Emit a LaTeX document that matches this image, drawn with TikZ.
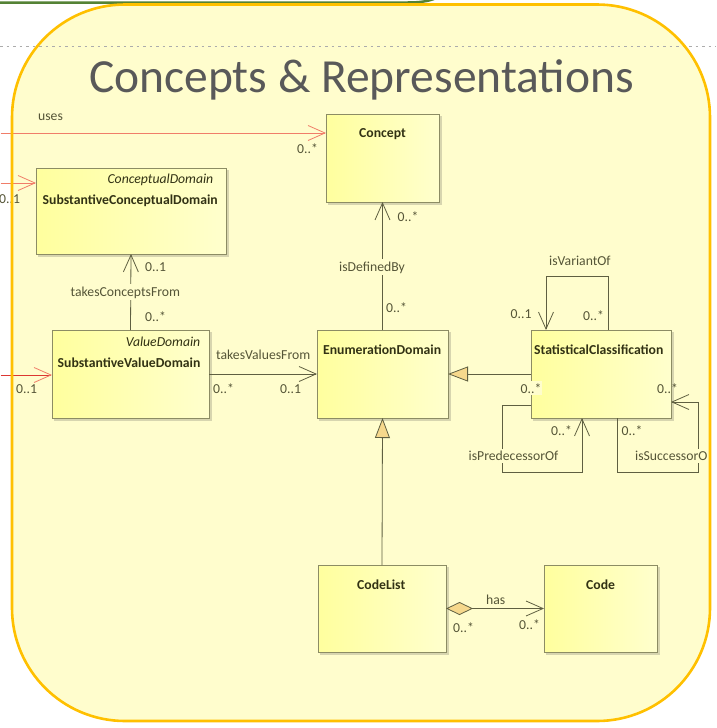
\documentclass[tikz,border=0pt]{standalone}
\usepackage{fontspec}
\setmainfont{Carlito}
\usetikzlibrary{arrows.meta,calc}

\definecolor{pagebg}{RGB}{255,253,205}
\definecolor{frameor}{RGB}{255,192,0}
\definecolor{slidegreen}{RGB}{84,130,53}
\definecolor{titlegray}{RGB}{89,89,89}
\definecolor{boxleft}{RGB}{255,255,158}
\definecolor{boxright}{RGB}{255,255,205}
\definecolor{boxedge}{RGB}{140,140,100}
\definecolor{clstext}{RGB}{50,50,20}
\definecolor{lbltext}{RGB}{85,85,55}
\definecolor{linecol}{RGB}{95,95,65}
\definecolor{salmon}{RGB}{240,125,105}
\definecolor{deepred}{RGB}{220,55,50}
\definecolor{tipfill}{RGB}{246,216,140}
\definecolor{shadowcol}{RGB}{215,213,175}

\tikzset{
  openhd/.tip={Straight Barb[length=17pt,width=15pt]},
  gentri/.tip={Triangle[length=20pt,width=15pt,fill=tipfill]},
  aggdia/.tip={Diamond[length=27pt,width=13pt,fill=tipfill]},
  umlbox/.style={draw=boxedge, line width=0.9pt, rectangle, outer sep=0pt,
    left color=boxleft, right color=boxright},
  boxshadow/.style={fill=shadowcol},
  clsname/.style={text=clstext, font=\fontsize{13.7}{16}\selectfont\bfseries,
    inner sep=0pt, anchor=base west},
  stereo/.style={text=clstext, font=\fontsize{13.7}{16}\selectfont\itshape,
    inner sep=0pt, anchor=base east},
  lbl/.style={text=lbltext, inner sep=0pt, anchor=base west},
  masked/.style={fill=pagebg, inner xsep=1pt, inner ysep=2pt},
  assoc/.style={draw=linecol, line width=0.8pt},
  redline/.style={draw=salmon, line width=0.8pt},
}

\begin{document}
\begin{tikzpicture}[x=1pt,y=-1pt,font=\fontsize{13.7}{16}\selectfont]
\useasboundingbox (0,0) rectangle (717,728);
\fill[white] (0,0) rectangle (717,728);

% yellow rounded panel
\fill[pagebg, rounded corners=113pt] (12,4.5) rectangle (710,721);

% slide header rule and dotted guide
\draw[slidegreen, line width=2.5pt] (0,2.5) -- (408,2.5) .. controls (421,2.5) and (428,1) .. (434,-1);
\draw[gray!65, line width=1pt, dash pattern=on 2.5pt off 4pt] (0,46.5) -- (716,46.5);

% title
\node[text=titlegray, font=\fontsize{47.5}{50}\selectfont, inner sep=0pt, anchor=base] (title) at (361.5,92) {Concepts \& Representations};

% soft shadows under the class boxes
\fill[boxshadow] (328,116) rectangle (441.5,204.5);
\fill[boxshadow] (38,170) rectangle (228.5,256.5);
\fill[boxshadow] (54,332) rectangle (211.5,420.5);
\fill[boxshadow] (319,332) rectangle (450.5,420.5);
\fill[boxshadow] (533,332) rectangle (673.5,420.5);
\fill[boxshadow] (320,567) rectangle (448.5,654.5);
\fill[boxshadow] (546,567) rectangle (659.5,654.5);

% classes
\node[umlbox, minimum width=113pt, minimum height=88pt] (concept) at (382.5,158) {};
\node[umlbox, minimum width=190pt, minimum height=86pt] (scd) at (131,211) {};
\node[umlbox, minimum width=157pt, minimum height=88pt] (svd) at (130.5,374) {};
\node[umlbox, minimum width=131pt, minimum height=88pt] (enum) at (382.5,374) {};
\node[umlbox, minimum width=140pt, minimum height=88pt] (stat) at (601,374) {};
\node[umlbox, minimum width=128pt, minimum height=87pt] (codelist) at (382,608.5) {};
\node[umlbox, minimum width=113pt, minimum height=87pt] (code) at (600.5,608.5) {};

\node[clsname] (conceptT) at (359,137.5) {Concept};
\node[stereo] (scdS) at (213.5,183.5) {ConceptualDomain};
\node[clsname] (scdT) at (42.5,204) {SubstantiveConceptualDomain};
\node[stereo] (svdS) at (200.5,346.5) {ValueDomain};
\node[clsname] (svdT) at (57.5,367.5) {SubstantiveValueDomain};
\node[clsname] (enumT) at (323,354) {EnumerationDomain};
\node[clsname] (statT) at (534,354) {StatisticalClassification};
\node[clsname] (codelistT) at (357,589) {CodeList};
\node[clsname] (codeT) at (586,589) {Code};

% associations entering from the left
\coordinate (usesL) at (0.5,133);
\coordinate (scdL) at (0.5,183);
\coordinate (svdL) at (0.5,375);
\draw[redline, -openhd] (usesL) -- (usesL -| concept.west);
\draw[redline, -openhd] (scdL) -- (scdL -| scd.west);
\draw[redline, draw=deepred, -{Straight Barb[length=17pt,width=15pt,color=salmon]}] (svdL) -- (svdL -| svd.west);
\node[lbl] (usesN) at (38,120) {uses};
\node[lbl] (usesM) at (297,153) {0..*};
\node[lbl] (scdM) at (-1,203) {0..1};
\node[lbl] (svdM) at (16,393) {0..1};

% takesConceptsFrom
\draw[assoc, -openhd] (svd.north) -- (scd.south);
\node[lbl] (tcfA) at (145,271) {0..1};
\node[lbl, masked] (tcfN) at (69.5,296) {takesConceptsFrom};
\node[lbl] (tcfB) at (145,321.5) {0..*};

% takesValuesFrom
\draw[assoc, -openhd] (svd.east) -- (enum.west);
\node[lbl] (tvfN) at (216,359) {takesValuesFrom};
\node[lbl] (tvfA) at (213,393) {0..*};
\node[lbl] (tvfB) at (280,393) {0..1};

% isDefinedBy
\draw[assoc, -openhd] (enum.north) -- (concept.south);
\node[lbl] (idbA) at (397.5,221.5) {0..*};
\node[lbl, masked] (idbN) at (338,271) {isDefinedBy};
\node[lbl] (idbB) at (386,312) {0..*};

% generalizations
\draw[assoc, -gentri] (stat.west) -- (enum.east);
\draw[assoc, -gentri] (codelist.north) -- (enum.south);

% isVariantOf
\draw[assoc, -openhd] ([xshift=77pt]stat.north west) -- ++(0,-54) -- ++(-62,0) -- ([xshift=15pt]stat.north west);
\node[lbl] (ivN) at (549,265) {isVariantOf};
\node[lbl] (ivA) at (510.5,318) {0..1};
\node[lbl] (ivB) at (583,320) {0..*};

% isPredecessorOf
\draw[assoc, -openhd] ([yshift=-75pt]stat.north west) -- ++(-29,0) -- ++(0,67) -- ++(80,0) -- ([xshift=51pt]stat.south west);
\node[lbl, masked] (ipA) at (519.5,393) {0..*};
\node[lbl] (ipB) at (551,435) {0..*};
\node[lbl, masked] (ipN) at (467.5,460.5) {isPredecessorOf};

% isSuccessorOf
\draw[assoc, -openhd] ([xshift=86pt]stat.south west) -- ++(0,54) -- ++(81,0) -- ++(0,-70) -- ([yshift=-72pt]stat.north east);
\node[lbl] (isA) at (621.5,435) {0..*};
\node[lbl] (isB) at (657,393) {0..*};
\begin{scope}
  \clip (600,440) rectangle (706.5,475);
  \node[lbl, masked] (isN) at (634,460.5) {isSuccessorOf};
\end{scope}

% has
\draw[assoc, aggdia-openhd] (codelist.east) -- (code.west);
\node[lbl] (hasN) at (486,604) {has};
\node[lbl] (hasA) at (453,632) {0..*};
\node[lbl] (hasB) at (519,629) {0..*};

% panel outline on top
\draw[frameor, line width=2.6pt, rounded corners=113pt] (12,4.5) rectangle (710,721);
\end{tikzpicture}
\end{document}
